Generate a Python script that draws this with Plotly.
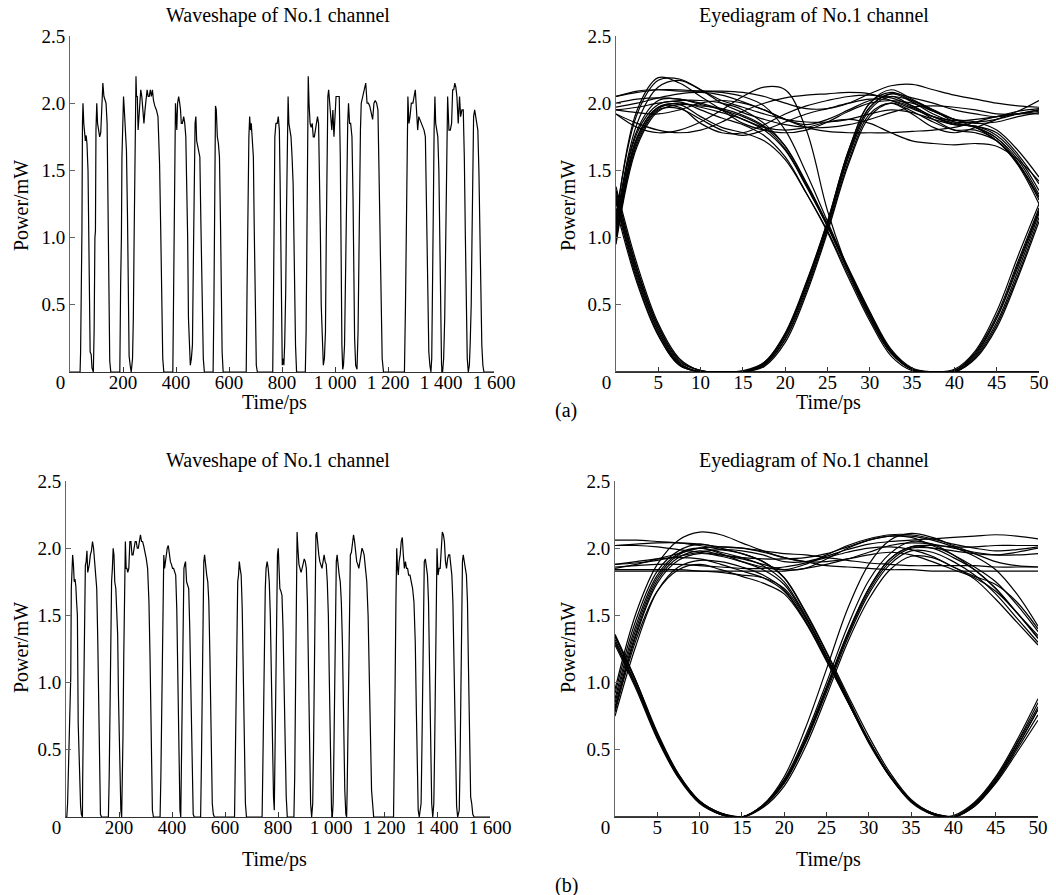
import plotly.graph_objects as go

# ---------------- data ----------------
# Waveshape (a): (time ps, power mW)
WAVE_A = [
    (0, 0), (38, 0), (40, 0.15), (43, 0.6), (45, 1.05), (47, 1.85), (49, 2.0), (52, 1.85), (55, 1.8), (58, 1.72),
    (61, 1.76), (64, 1.7), (68, 1.5), (71, 1.0), (74, 0.35), (76, 0.15), (80, 0.13), (83, 0.03), (88, 0),
    (91, 0.3), (94, 1.0), (96, 1.05), (98, 1.8), (101, 2.0), (104, 1.85), (108, 1.78), (112, 1.75), (116, 1.78),
    (120, 1.92), (124, 2.15), (128, 2.05), (132, 2.02), (136, 2.0), (140, 1.85), (144, 1.2), (147, 0.45), (150, 0.08), (154, 0),
    (188, 0), (191, 0.65), (194, 1.0), (196, 1.6), (199, 1.95), (202, 2.05), (205, 1.95), (209, 1.72), (213, 1.65),
    (217, 1.15), (220, 0.45), (223, 0.12), (227, 0.05), (231, 0),
    (236, 0.1), (239, 0.4), (242, 1.0), (245, 1.6), (247, 2.15), (249, 2.2), (251, 2.05), (254, 2.05), (257, 1.8),
    (260, 1.9), (263, 2.05), (267, 2.1), (271, 2.05), (275, 1.9), (279, 1.85), (283, 1.95), (287, 2.05), (291, 2.1),
    (295, 2.05), (299, 2.05), (303, 2.1), (307, 2.05), (311, 2.1), (315, 2.02), (320, 1.98), (326, 1.95), (332, 1.9),
    (338, 1.55), (342, 1.1), (346, 0.5), (350, 0.1), (354, 0),
    (388, 0), (391, 0.6), (394, 1.0), (396, 1.6), (398, 2.0), (401, 1.85), (403, 1.8), (406, 2.0), (410, 2.05),
    (414, 2.0), (417, 1.95), (420, 1.85), (424, 1.85), (429, 1.9), (433, 1.85), (437, 1.75), (441, 1.4), (444, 1.0),
    (447, 0.4), (450, 0.15), (454, 0.05), (458, 0.1),
    (462, 0.2), (466, 0.9), (469, 1.7), (472, 1.85), (475, 1.9), (478, 1.72), (482, 1.68), (486, 1.65), (490, 1.6),
    (494, 1.1), (497, 0.65), (500, 0.3), (503, 0.1), (507, 0),
    (540, 0), (543, 0.5), (545, 1.1), (547, 1.7), (549, 1.98), (552, 1.95), (556, 1.75), (560, 1.7), (564, 1.6),
    (568, 1.1), (571, 0.5), (574, 0.15), (578, 0),
    (665, 0), (668, 0.6), (670, 1.0), (672, 1.6), (675, 1.75), (678, 1.9), (681, 1.8), (684, 1.85), (688, 1.75),
    (692, 1.6), (695, 1.1), (699, 0.4), (703, 0.05), (707, 0),
    (765, 0), (768, 0.6), (770, 1.1), (773, 1.75), (777, 1.85), (782, 1.85), (786, 1.9), (790, 1.8), (793, 1.4),
    (796, 0.9), (798, 0.4), (801, 0.05), (804, 0.1), (807, 0.05), (810, 0.2),
    (814, 0.6), (817, 1.2), (820, 1.6), (823, 2.05), (826, 1.85), (830, 1.8), (834, 1.75), (838, 1.6), (842, 1.4),
    (845, 1.0), (848, 0.5), (851, 0.2), (855, 0),
    (888, 0), (891, 0.3), (893, 1.0), (896, 1.6), (899, 2.2), (902, 2.0), (906, 1.85), (910, 1.82), (914, 1.85),
    (918, 1.75), (922, 1.75), (926, 1.8), (930, 1.85), (934, 1.9), (938, 1.85), (942, 1.5), (945, 1.0), (948, 0.5),
    (952, 0.2), (956, 0.05), (960, 0.1),
    (964, 0.3), (967, 1.0), (970, 1.7), (973, 2.05), (976, 2.1), (980, 2.0), (984, 1.95), (988, 1.8), (992, 1.95),
    (996, 1.75), (1000, 1.9), (1004, 2.05), (1010, 2.05), (1016, 2.05), (1020, 1.6), (1023, 0.8), (1026, 0.2),
    (1029, 0.02), (1032, 0.05),
    (1036, 0.2), (1040, 0.9), (1044, 1.5), (1048, 1.85), (1051, 2.0), (1055, 1.85), (1059, 1.85), (1064, 1.75),
    (1068, 1.3), (1071, 0.7), (1074, 0.25), (1078, 0.05), (1083, 0.02),
    (1087, 0.3), (1090, 0.9), (1093, 1.2), (1096, 1.8), (1099, 2.0), (1104, 2.05), (1110, 2.1), (1116, 2.15),
    (1121, 2.0), (1126, 2.0), (1131, 1.98), (1137, 1.92), (1142, 1.88), (1147, 2.0), (1152, 2.02), (1157, 2.0),
    (1162, 1.95), (1166, 1.5), (1170, 1.0), (1174, 0.5), (1178, 0.1), (1183, 0),
    (1262, 0), (1266, 0.5), (1269, 1.2), (1272, 1.6), (1275, 2.05), (1279, 1.85), (1283, 1.9), (1288, 2.0),
    (1294, 2.0), (1303, 2.1), (1308, 1.9), (1312, 1.8), (1316, 1.9), (1320, 1.88), (1325, 1.85), (1330, 1.82),
    (1336, 1.8), (1341, 1.75), (1345, 1.3), (1348, 0.8), (1351, 0.4), (1354, 0.15), (1358, 0.05), (1362, 0),
    (1365, 0.1), (1368, 0.5), (1371, 1.2), (1374, 1.8), (1377, 2.05), (1380, 1.85), (1384, 1.8), (1388, 1.75),
    (1392, 1.5), (1395, 1.0), (1398, 0.4), (1402, 0.05), (1406, 0), (1410, 0.1),
    (1414, 0.4), (1417, 1.0), (1420, 1.6), (1425, 2.05), (1430, 1.8), (1435, 1.8), (1440, 1.85), (1444, 2.1),
    (1448, 2.1), (1452, 2.15), (1456, 2.12), (1460, 2.05), (1465, 1.85), (1470, 2.05), (1474, 1.9), (1479, 1.95),
    (1484, 1.95), (1488, 1.6), (1492, 1.0), (1495, 0.5), (1499, 0.1), (1503, 0), (1507, 0.05),
    (1510, 0.2), (1514, 0.5), (1517, 1.0), (1520, 1.6), (1523, 1.9), (1527, 1.95), (1531, 1.9), (1535, 1.85),
    (1539, 1.8), (1543, 1.5), (1547, 1.0), (1551, 0.5), (1554, 0.2), (1558, 0.05), (1562, 0), (1600, 0),
]

# Waveshape (b): (time ps, power mW)
WAVE_B = [
    (0, 0), (3, 0), (6, 0.1), (9, 0.35), (12, 0.45), (15, 0.75), (18, 1.05), (20, 1.7), (22, 1.85), (25, 1.95),
    (28, 1.88), (31, 1.75), (34, 1.77), (37, 1.72), (40, 1.6), (43, 1.5), (46, 0.7), (49, 0.4), (52, 0.12),
    (55, 0.08), (58, 0.02), (62, 0),
    (63, 0.3), (66, 0.8), (68, 1.05), (70, 1.75), (73, 1.87), (76, 1.9), (79, 1.98), (82, 1.82), (85, 1.85),
    (88, 1.88), (92, 1.95), (96, 1.98), (100, 2.05), (104, 2.0), (108, 1.9), (112, 1.75), (116, 1.7), (120, 1.3),
    (123, 0.8), (126, 0.3), (130, 0.02), (134, 0),
    (160, 0), (163, 0.3), (166, 0.8), (169, 1.4), (172, 1.75), (175, 1.85), (178, 2.0), (181, 1.95), (184, 1.75),
    (188, 1.7), (192, 1.55), (195, 1.35), (198, 0.9), (201, 0.5), (204, 0.1), (207, 0.05), (210, 0.0),
    (212, 0.2), (215, 0.6), (218, 1.2), (221, 1.75), (224, 2.05), (227, 1.85), (230, 1.85), (233, 1.82), (237, 1.85),
    (241, 2.05), (245, 2.05), (249, 1.95), (253, 1.95), (257, 2.0), (261, 2.05), (265, 2.05), (269, 2.0), (273, 2.0),
    (277, 2.05), (281, 2.1), (285, 2.05), (289, 2.05), (293, 2.02), (298, 1.98), (303, 1.92), (308, 1.85),
    (313, 1.6), (317, 1.2), (320, 0.7), (323, 0.3), (326, 0.05), (330, 0),
    (355, 0), (358, 0.3), (361, 0.7), (364, 1.1), (366, 1.6), (369, 1.95), (372, 1.85), (375, 1.9), (378, 1.95),
    (382, 2.0), (386, 2.02), (390, 1.95), (394, 1.9), (398, 1.88), (402, 1.85), (406, 1.85), (410, 1.82),
    (414, 1.8), (418, 1.55), (421, 1.1), (424, 0.6), (427, 0.2), (430, 0.05), (433, 0),
    (436, 0.5), (439, 1.0), (442, 1.6), (445, 1.85), (448, 1.88), (451, 1.9), (455, 1.75), (459, 1.72), (463, 1.7),
    (467, 1.4), (470, 1.0), (473, 0.6), (476, 0.2), (480, 0.02), (484, 0),
    (508, 0), (511, 0.4), (514, 1.0), (517, 1.6), (520, 1.9), (523, 1.95), (527, 1.85), (531, 1.8), (535, 1.75),
    (539, 1.6), (543, 1.2), (546, 0.8), (549, 0.4), (552, 0.1), (556, 0.02), (560, 0),
    (636, 0), (639, 0.4), (642, 0.9), (645, 1.5), (648, 1.75), (651, 1.8), (654, 1.9), (657, 1.85), (661, 1.8),
    (665, 1.55), (668, 1.2), (671, 0.7), (674, 0.3), (677, 0.1), (681, 0),
    (740, 0), (743, 0.4), (746, 0.9), (749, 1.5), (752, 1.7), (755, 1.85), (759, 1.9), (763, 1.85), (767, 1.75),
    (771, 1.5), (774, 1.1), (777, 0.8), (780, 0.4), (783, 0.15), (786, 0.05),
    (789, 0.5), (792, 1.0), (795, 1.6), (798, 1.95), (801, 2.0), (804, 1.85), (807, 1.7), (811, 1.68), (815, 1.65),
    (819, 1.4), (822, 1.1), (825, 0.7), (828, 0.35), (831, 0.15), (835, 0),
    (860, 0), (863, 0.3), (866, 1.0), (869, 1.7), (872, 2.12), (875, 2.0), (879, 1.88), (883, 1.85), (887, 1.82),
    (891, 1.85), (895, 1.9), (899, 1.92), (903, 1.9), (907, 1.85), (911, 1.6), (914, 1.2), (917, 0.7), (920, 0.3),
    (923, 0.1), (927, 0),
    (931, 0.1), (934, 0.5), (937, 1.0), (940, 1.6), (943, 2.1), (946, 2.12), (950, 2.0), (954, 1.95), (958, 1.9),
    (962, 1.88), (966, 1.85), (970, 1.9), (974, 1.95), (978, 1.9), (982, 1.88), (986, 1.75), (990, 1.5), (993, 1.1),
    (996, 0.6), (999, 0.2), (1002, 0.05), (1005, 0.0),
    (1008, 0.1), (1011, 0.5), (1014, 1.0), (1017, 1.6), (1020, 1.9), (1023, 1.95), (1027, 1.85), (1031, 1.8),
    (1035, 1.75), (1039, 1.6), (1043, 1.3), (1046, 0.9), (1049, 0.5), (1052, 0.2), (1056, 0.02), (1059, 0),
    (1061, 0.2), (1064, 0.6), (1067, 1.0), (1070, 1.6), (1073, 1.95), (1077, 1.97), (1081, 2.05), (1085, 2.1),
    (1089, 2.05), (1093, 1.95), (1097, 1.9), (1101, 1.88), (1105, 1.85), (1109, 1.9), (1113, 1.95), (1117, 2.0),
    (1121, 1.98), (1125, 1.95), (1130, 1.85), (1135, 1.75), (1140, 1.5), (1145, 1.1), (1149, 0.6), (1153, 0.2),
    (1157, 0.05), (1161, 0),
    (1236, 0), (1239, 0.4), (1242, 1.0), (1245, 1.6), (1248, 2.0), (1251, 1.85), (1254, 1.8), (1257, 1.9),
    (1261, 1.95), (1265, 2.05), (1269, 2.08), (1273, 1.95), (1277, 1.85), (1281, 1.9), (1285, 1.85), (1289, 1.85),
    (1293, 1.8), (1298, 1.8), (1303, 1.75), (1308, 1.7), (1313, 1.6), (1318, 1.3), (1322, 0.8), (1326, 0.3),
    (1329, 0.05), (1333, 0),
    (1340, 0.1), (1343, 0.5), (1346, 1.0), (1349, 1.6), (1352, 1.9), (1356, 1.92), (1360, 1.85), (1364, 1.8),
    (1368, 1.6), (1371, 1.2), (1374, 0.8), (1377, 0.4), (1380, 0.1), (1384, 0),
    (1388, 0.1), (1391, 0.5), (1394, 1.0), (1397, 1.6), (1400, 2.0), (1404, 1.8), (1408, 1.85), (1412, 1.85),
    (1416, 2.05), (1420, 2.12), (1424, 2.1), (1428, 2.05), (1432, 1.9), (1436, 1.85), (1440, 1.92), (1444, 1.95),
    (1448, 1.95), (1452, 1.85), (1456, 1.8), (1460, 1.6), (1464, 1.2), (1468, 0.7), (1471, 0.3), (1474, 0.08), (1478, 0),
    (1484, 0.05), (1487, 0.4), (1490, 0.9), (1493, 1.5), (1496, 1.9), (1499, 1.95), (1503, 1.88), (1507, 1.85),
    (1511, 1.8), (1515, 1.6), (1518, 1.2), (1521, 0.8), (1524, 0.4), (1527, 0.15), (1531, 0.1), (1535, 0.02),
    (1540, 0), (1600, 0),
]

# Eye diagrams: common time grid (ps) and power values per trace (mW)
EYE_T = [0, 2.5, 5, 7.5, 10, 12.5, 15, 17.5, 20, 22.5, 25, 27.5, 30, 32.5, 35, 37.5, 40, 42.5, 45, 47.5, 50]

EYE_A = [
    [0.98, 1.72, 1.96, 2.00, 1.97, 1.93, 1.88, 1.80, 1.65, 1.38, 1.08, 0.74, 0.42, 0.15, 0.02, 0.00, 0.00, 0.12, 0.37, 0.75, 1.18],
    [1.05, 1.78, 1.99, 2.01, 1.95, 1.89, 1.84, 1.76, 1.60, 1.33, 1.04, 0.70, 0.38, 0.12, 0.01, 0.00, 0.01, 0.15, 0.42, 0.82, 1.22],
    [0.95, 1.68, 1.94, 1.99, 1.98, 1.96, 1.91, 1.83, 1.68, 1.41, 1.10, 0.77, 0.45, 0.17, 0.03, 0.00, 0.00, 0.10, 0.33, 0.70, 1.12],
    [1.00, 1.74, 1.97, 1.99, 1.90, 1.82, 1.78, 1.72, 1.58, 1.33, 1.05, 0.72, 0.40, 0.14, 0.02, 0.00, 0.00, 0.00, 0.00, 0.00, 0.00],
    [1.08, 1.80, 2.02, 2.03, 1.99, 1.95, 1.90, 1.82, 1.66, 1.39, 1.09, 0.76, 0.44, 0.16, 0.02, 0.00, 0.00, 0.00, 0.00, 0.00, 0.00],
    [1.02, 1.75, 1.97, 1.97, 1.85, 1.78, 1.78, 1.84, 1.92, 1.98, 2.02, 2.05, 2.06, 2.04, 1.98, 1.90, 1.85, 1.82, 1.74, 1.58, 1.32],
    [0.97, 1.70, 1.95, 1.96, 1.88, 1.80, 1.76, 1.80, 1.86, 1.92, 1.96, 2.00, 2.03, 2.02, 1.97, 1.88, 1.80, 1.78, 1.72, 1.55, 1.28],
    [1.10, 1.85, 2.12, 2.17, 2.10, 2.02, 1.97, 1.92, 1.88, 1.86, 1.86, 1.88, 1.92, 1.95, 1.93, 1.88, 1.84, 1.83, 1.78, 1.62, 1.40],
    [1.15, 1.92, 2.17, 2.18, 2.10, 2.00, 1.93, 1.88, 1.84, 1.82, 1.82, 1.84, 1.88, 1.93, 1.97, 1.98, 1.97, 1.95, 1.92, 1.92, 1.94],
    [1.12, 1.95, 2.19, 2.15, 2.05, 1.95, 1.85, 1.80, 1.78, 1.80, 1.86, 1.94, 2.00, 2.02, 2.00, 1.94, 1.88, 1.85, 1.86, 1.90, 1.93],
    [1.32, 0.74, 0.32, 0.07, 0.00, 0.00, 0.00, 0.05, 0.25, 0.62, 1.08, 1.60, 1.95, 2.05, 1.98, 1.90, 1.84, 1.83, 1.76, 1.60, 1.35],
    [1.26, 0.68, 0.28, 0.05, 0.00, 0.00, 0.00, 0.07, 0.28, 0.66, 1.12, 1.65, 2.00, 2.08, 2.02, 1.94, 1.88, 1.86, 1.80, 1.65, 1.45],
    [1.38, 0.80, 0.36, 0.10, 0.01, 0.00, 0.00, 0.04, 0.22, 0.58, 1.04, 1.55, 1.90, 2.00, 1.94, 1.86, 1.80, 1.80, 1.72, 1.54, 1.25],
    [1.30, 0.72, 0.30, 0.06, 0.00, 0.00, 0.00, 0.06, 0.27, 0.64, 1.10, 1.63, 1.97, 2.07, 2.01, 1.92, 1.86, 1.86, 1.88, 1.92, 1.95],
    [1.35, 0.77, 0.34, 0.08, 0.01, 0.00, 0.00, 0.05, 0.24, 0.60, 1.06, 1.57, 1.92, 2.00, 1.92, 1.82, 1.78, 1.82, 1.88, 1.94, 2.02],
    [1.28, 0.70, 0.30, 0.06, 0.00, 0.00, 0.00, 0.00, 0.00, 0.00, 0.00, 0.00, 0.00, 0.00, 0.00, 0.00, 0.01, 0.13, 0.40, 0.80, 1.20],
    [1.35, 0.76, 0.34, 0.09, 0.01, 0.00, 0.00, 0.00, 0.00, 0.00, 0.00, 0.00, 0.00, 0.00, 0.00, 0.00, 0.02, 0.16, 0.45, 0.86, 1.25],
    [1.22, 0.66, 0.27, 0.05, 0.00, 0.00, 0.00, 0.00, 0.00, 0.00, 0.00, 0.00, 0.00, 0.00, 0.00, 0.00, 0.00, 0.00, 0.00, 0.00, 0.00],
    [1.95, 1.97, 2.00, 2.02, 2.02, 2.00, 1.95, 1.85, 1.68, 1.40, 1.09, 0.75, 0.43, 0.16, 0.02, 0.00, 0.00, 0.11, 0.35, 0.72, 1.15],
    [2.05, 2.09, 2.10, 2.09, 2.09, 2.08, 2.05, 1.98, 1.80, 1.48, 1.12, 0.76, 0.42, 0.15, 0.02, 0.00, 0.01, 0.14, 0.40, 0.78, 1.20],
    [1.92, 1.82, 1.78, 1.80, 1.86, 1.95, 2.05, 2.12, 2.10, 1.80, 1.20, 0.75, 0.40, 0.14, 0.02, 0.00, 0.00, 0.00, 0.00, 0.00, 0.00],
    [2.05, 2.08, 2.10, 2.10, 2.09, 2.09, 2.08, 2.05, 2.00, 1.96, 1.96, 2.00, 2.07, 2.13, 2.14, 2.10, 2.06, 2.03, 2.00, 1.98, 1.97],
    [1.92, 1.85, 1.80, 1.78, 1.80, 1.86, 1.94, 2.00, 2.04, 2.06, 2.07, 2.08, 2.07, 2.02, 1.96, 1.90, 1.87, 1.88, 1.90, 1.94, 1.96],
    [1.97, 2.00, 2.04, 2.07, 2.08, 2.06, 2.01, 1.95, 1.88, 1.82, 1.79, 1.78, 1.78, 1.78, 1.79, 1.80, 1.82, 1.86, 1.90, 1.92, 1.92],
    [1.95, 1.93, 1.92, 1.95, 2.00, 2.02, 2.00, 1.95, 1.88, 1.84, 1.88, 1.95, 2.02, 2.05, 2.02, 1.95, 1.88, 1.82, 1.72, 1.55, 1.30],
    [2.00, 2.03, 2.04, 2.03, 2.00, 1.95, 1.88, 1.82, 1.80, 1.82, 1.86, 1.88, 1.85, 1.78, 1.72, 1.70, 1.69, 1.70, 1.68, 1.58, 1.42],
    [0.00, 0.00, 0.00, 0.00, 0.00, 0.00, 0.00, 0.06, 0.27, 0.65, 1.10, 1.62, 1.97, 2.07, 2.04, 2.00, 1.95, 1.92, 1.90, 1.92, 1.95],
    [0.00, 0.00, 0.00, 0.00, 0.00, 0.00, 0.01, 0.07, 0.29, 0.67, 1.12, 1.65, 2.00, 2.10, 2.03, 1.95, 1.86, 1.82, 1.74, 1.56, 1.30],
]

EYE_B = [
    [0.85, 1.40, 1.78, 1.95, 2.00, 1.97, 1.93, 1.87, 1.75, 1.50, 1.20, 0.88, 0.57, 0.31, 0.12, 0.03, 0.00, 0.09, 0.27, 0.52, 0.80],
    [0.78, 1.32, 1.68, 1.84, 1.88, 1.84, 1.79, 1.74, 1.66, 1.45, 1.16, 0.86, 0.55, 0.30, 0.11, 0.02, 0.00, 0.10, 0.29, 0.55, 0.85],
    [0.92, 1.47, 1.83, 1.98, 2.03, 2.00, 1.96, 1.90, 1.78, 1.53, 1.23, 0.91, 0.60, 0.33, 0.13, 0.03, 0.00, 0.08, 0.25, 0.48, 0.72],
    [0.88, 1.43, 1.80, 1.96, 2.00, 1.96, 1.90, 1.84, 1.73, 1.49, 1.19, 0.87, 0.56, 0.30, 0.12, 0.02, 0.00, 0.00, 0.00, 0.00, 0.00],
    [0.75, 1.28, 1.68, 1.86, 1.91, 1.90, 1.86, 1.80, 1.69, 1.46, 1.17, 0.86, 0.56, 0.31, 0.12, 0.03, 0.00, 0.00, 0.00, 0.00, 0.00],
    [0.82, 1.37, 1.76, 1.93, 1.98, 1.95, 1.92, 1.88, 1.84, 1.85, 1.92, 2.00, 2.06, 2.09, 2.08, 2.02, 1.95, 1.86, 1.75, 1.58, 1.38],
    [0.95, 1.52, 1.88, 2.06, 2.12, 2.10, 2.04, 1.98, 1.93, 1.90, 1.90, 1.92, 1.95, 1.97, 1.95, 1.90, 1.84, 1.78, 1.68, 1.52, 1.33],
    [0.80, 1.35, 1.74, 1.91, 1.96, 1.94, 1.90, 1.86, 1.84, 1.88, 1.95, 2.02, 2.07, 2.10, 2.10, 2.07, 2.03, 2.00, 1.98, 1.99, 2.01],
    [1.32, 0.98, 0.60, 0.30, 0.11, 0.02, 0.00, 0.08, 0.25, 0.55, 0.93, 1.33, 1.66, 1.88, 1.98, 1.97, 1.90, 1.80, 1.66, 1.48, 1.30],
    [1.28, 0.95, 0.58, 0.29, 0.10, 0.02, 0.00, 0.09, 0.27, 0.58, 0.97, 1.37, 1.70, 1.92, 2.01, 2.00, 1.93, 1.84, 1.70, 1.52, 1.35],
    [1.36, 1.01, 0.62, 0.32, 0.12, 0.03, 0.00, 0.07, 0.23, 0.52, 0.90, 1.30, 1.62, 1.84, 1.94, 1.93, 1.86, 1.77, 1.62, 1.45, 1.28],
    [1.30, 0.97, 0.59, 0.30, 0.11, 0.02, 0.00, 0.08, 0.26, 0.56, 0.95, 1.35, 1.68, 1.90, 2.00, 2.00, 1.98, 1.96, 1.95, 1.97, 2.00],
    [1.34, 1.00, 0.61, 0.31, 0.12, 0.03, 0.00, 0.09, 0.30, 0.66, 1.10, 1.55, 1.88, 2.06, 2.11, 2.08, 2.02, 1.96, 1.90, 1.87, 1.86],
    [1.30, 0.97, 0.60, 0.30, 0.11, 0.02, 0.00, 0.00, 0.00, 0.00, 0.00, 0.00, 0.00, 0.00, 0.00, 0.00, 0.00, 0.09, 0.27, 0.52, 0.80],
    [1.35, 1.01, 0.63, 0.32, 0.12, 0.03, 0.00, 0.00, 0.00, 0.00, 0.00, 0.00, 0.00, 0.00, 0.00, 0.00, 0.01, 0.11, 0.30, 0.57, 0.88],
    [2.02, 2.03, 2.04, 2.04, 2.02, 1.99, 1.96, 1.90, 1.78, 1.52, 1.22, 0.89, 0.57, 0.31, 0.12, 0.03, 0.00, 0.08, 0.26, 0.50, 0.76],
    [1.88, 1.90, 1.92, 1.93, 1.92, 1.88, 1.83, 1.78, 1.68, 1.46, 1.17, 0.86, 0.56, 0.30, 0.12, 0.02, 0.00, 0.10, 0.28, 0.54, 0.82],
    [2.06, 2.06, 2.05, 2.04, 2.03, 2.01, 2.00, 1.98, 1.96, 1.95, 1.93, 1.91, 1.89, 1.88, 1.87, 1.87, 1.87, 1.87, 1.86, 1.86, 1.86],
    [1.88, 1.89, 1.91, 1.94, 1.97, 1.99, 1.98, 1.95, 1.90, 1.90, 1.94, 1.99, 2.03, 2.05, 2.06, 2.07, 2.08, 2.09, 2.10, 2.09, 2.07],
    [1.83, 1.83, 1.83, 1.83, 1.83, 1.83, 1.83, 1.83, 1.83, 1.85, 1.88, 1.92, 1.97, 2.02, 2.04, 2.03, 2.00, 1.97, 1.95, 1.95, 1.96],
    [1.85, 1.88, 1.92, 1.96, 2.00, 2.01, 2.00, 1.97, 1.93, 1.90, 1.87, 1.86, 1.85, 1.84, 1.84, 1.83, 1.83, 1.83, 1.83, 1.83, 1.83],
    [2.02, 2.02, 2.01, 1.99, 1.97, 1.95, 1.93, 1.92, 1.92, 1.93, 1.96, 2.01, 2.06, 2.09, 2.09, 2.06, 2.01, 1.94, 1.84, 1.66, 1.42],
    [1.86, 1.87, 1.88, 1.88, 1.87, 1.86, 1.85, 1.85, 1.86, 1.89, 1.93, 1.97, 2.00, 2.01, 1.99, 1.94, 1.86, 1.79, 1.73, 1.60, 1.40],
    [0.00, 0.00, 0.00, 0.00, 0.00, 0.00, 0.00, 0.08, 0.26, 0.57, 0.96, 1.36, 1.70, 1.92, 2.01, 2.02, 2.01, 2.01, 2.02, 2.02, 2.02],
    [0.00, 0.00, 0.00, 0.00, 0.00, 0.00, 0.00, 0.09, 0.28, 0.60, 1.00, 1.42, 1.76, 1.96, 2.05, 2.03, 1.95, 1.84, 1.70, 1.52, 1.33],
    [1.84, 1.84, 1.84, 1.84, 1.83, 1.82, 1.80, 1.78, 1.70, 1.48, 1.19, 0.88, 0.57, 0.31, 0.12, 0.03, 0.00, 0.00, 0.00, 0.00, 0.00],
]

WAVE_TICKS = [0, 200, 400, 600, 800, 1000, 1200, 1400, 1600]
WAVE_TICK_TEXT = ["0", "200", "400", "600", "800", "1 000", "1 200", "1 400", "1 600"]
EYE_TICKS = [0, 5, 10, 15, 20, 25, 30, 35, 40, 45, 50]
Y_TICKS = [0.5, 1.0, 1.5, 2.0, 2.5]
Y_TICK_TEXT = ["0.5", "1.0", "1.5", "2.0", "2.5"]

WAVE_TITLE = "Waveshape of No.1 channel"
EYE_TITLE = "Eyediagram of No.1 channel"
X_TITLE = "Time/ps"
Y_TITLE = "Power/mW"

# ---------------- layout / style ----------------
W, H = 1056, 895
FONT = "Liberation Serif"
TICK_FONT = dict(family=FONT, size=19, color="black")
TITLE_FONT = dict(family=FONT, size=20, color="black")


def fx(px):
    return px / W


def fy(py):
    return 1 - py / H


# pixel boxes of the four plot areas: (left, right, top, bottom)
BOXES = [(70, 494, 36, 372), (616, 1039, 36, 372), (66, 490, 481, 817), (615, 1038, 481, 817)]

fig = go.Figure()
layout = dict(
    width=W, height=H, margin=dict(l=0, r=0, t=0, b=0, autoexpand=False),
    paper_bgcolor="white", plot_bgcolor="white", showlegend=False,
    font=dict(family=FONT, color="black"),
)

LINE = dict(color="black", width=1.2)

for i, (l, r, t, b) in enumerate(BOXES):
    n = i + 1
    xa = "x" if n == 1 else f"x{n}"
    ya = "y" if n == 1 else f"y{n}"
    is_wave = i % 2 == 0
    if is_wave:
        series = WAVE_A if i == 0 else WAVE_B
        fig.add_trace(go.Scatter(x=[p[0] for p in series], y=[p[1] for p in series], mode="lines",
                                 line=LINE, xaxis=xa, yaxis=ya, hoverinfo="skip"))
        xticks, xtext, xrange = WAVE_TICKS, WAVE_TICK_TEXT, [0, 1600]
    else:
        traces = EYE_A if i == 1 else EYE_B
        for vals in traces:
            fig.add_trace(go.Scatter(x=EYE_T, y=vals, mode="lines",
                                     line=dict(color="black", width=1.2, shape="spline", smoothing=1.0),
                                     xaxis=xa, yaxis=ya, hoverinfo="skip"))
        xticks, xtext, xrange = EYE_TICKS, [str(v) for v in EYE_TICKS], [0, 50]
    xtext = list(xtext)
    xtext[0] = "0" + "\u00a0" * 4
    layout["xaxis" if n == 1 else f"xaxis{n}"] = dict(
        domain=[fx(l), fx(r)], range=xrange, anchor=ya, automargin=False,
        showline=True, linecolor="#333", linewidth=1, mirror=False,
        ticks="inside", ticklen=5, tickcolor="#333", tickwidth=1,
        tickvals=xticks, ticktext=xtext, tickfont=TICK_FONT,
        showgrid=False, zeroline=False, fixedrange=True,
    )
    layout["yaxis" if n == 1 else f"yaxis{n}"] = dict(
        domain=[fy(b), fy(t)], range=[0, 2.5], anchor=xa, automargin=False,
        showline=True, linecolor="#666", linewidth=1, mirror=False,
        ticks="inside", ticklen=5, tickcolor="#666", tickwidth=1,
        tickvals=Y_TICKS, ticktext=Y_TICK_TEXT, tickfont=TICK_FONT,
        showgrid=False, zeroline=False, fixedrange=True,
    )

ann = []


def add_text(text, x, y, angle=0):
    ann.append(dict(text=text, x=fx(x), y=fy(y), xref="paper", yref="paper", showarrow=False,
                    xanchor="center", yanchor="middle", textangle=angle, font=TITLE_FONT))


add_text(WAVE_TITLE, 278, 16)
add_text(EYE_TITLE, 814, 16)
add_text(WAVE_TITLE, 278, 461)
add_text(EYE_TITLE, 814, 461)
add_text(X_TITLE, 274, 402)
add_text(X_TITLE, 828, 402)
add_text(X_TITLE, 274, 859)
add_text(X_TITLE, 828, 859)
add_text(Y_TITLE, 21, 206, -90)
add_text(Y_TITLE, 568, 206, -90)
add_text(Y_TITLE, 21, 648, -90)
add_text(Y_TITLE, 568, 648, -90)
add_text("(a)", 566, 410)
add_text("(b)", 566, 885)
layout["annotations"] = ann

fig.update_layout(**layout)

# pull the x tick labels a little closer to the axis line, as in the reference
for n in range(1, 5):
    key = "xaxis" if n == 1 else f"xaxis{n}"
    try:
        fig.layout[key].ticklabelstandoff = -7
    except Exception:
        pass

fig.write_html("out.html")
